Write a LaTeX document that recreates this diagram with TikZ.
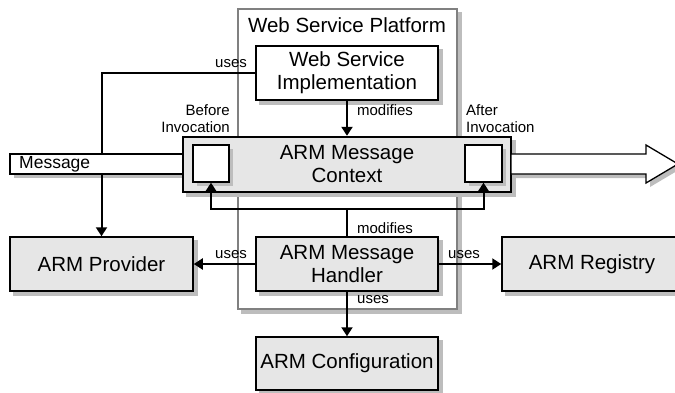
\documentclass[tikz,border=0pt]{standalone}
\usepackage{fontspec}
\setmainfont{Liberation Sans}
\usetikzlibrary{arrows.meta}
\pgfdeclarelayer{back}
\pgfdeclarelayer{plat}
\pgfdeclarelayer{shadow}
\pgfsetlayers{back,plat,shadow,main}
\definecolor{boxgray}{HTML}{E6E6E6}
\definecolor{shadowgray}{HTML}{BDBDBD}
\definecolor{platgray}{HTML}{808080}
\tikzset{
  box/.style={draw=black,line width=1.5pt,inner sep=0pt,align=center,
    font=\fontsize{20.5}{23}\selectfont},
  graybox/.style={box,fill=boxgray},
  whitebox/.style={box,fill=white},
  lbl/.style={inner sep=0pt,font=\fontsize{15}{17}\selectfont},
  conn/.style={line width=2pt},
  arr/.style={conn,-{Triangle[length=9pt,width=11pt]}},
  shadowfill/.style={fill=shadowgray,draw=none},
}
\newcommand{\boxshadow}[1]{\fill[shadowfill] ([shift={(4,4)}]#1.north west) rectangle ([shift={(4,4)}]#1.south east);}
\begin{document}
\begin{tikzpicture}[x=1pt,y=-1pt]
\useasboundingbox (0,0) rectangle (675,392);
% platform
\begin{pgfonlayer}{plat}
\node[draw=platgray,line width=1.3pt,fill=white,minimum width=219pt,minimum height=300pt,inner sep=0pt] (plat) at (347.5,159) {};
\end{pgfonlayer}
\begin{pgfonlayer}{back}
\boxshadow{plat}
\end{pgfonlayer}
\node[inner sep=0pt,font=\fontsize{20.5}{23}\selectfont] (platlbl) at (347,25) {Web Service Platform};
% main boxes
\node[whitebox,minimum width=182pt,minimum height=54pt] (W) at (347,73) {Web Service\\Implementation};
\node[graybox,line width=2.4pt,minimum width=328pt,minimum height=55pt] (C) at (347,164.5) {ARM Message\\Context};
\node[graybox,minimum width=183pt,minimum height=54pt] (P) at (101.5,264) {ARM Provider};
\node[graybox,minimum width=182pt,minimum height=54pt] (H) at (347,264) {ARM Message\\Handler};
\node[graybox,minimum width=180pt,minimum height=54pt] (R) at (592,264) {ARM Registry};
\node[graybox,minimum width=182pt,minimum height=53pt] (G) at (347,363.5) {ARM Configuration};
\begin{pgfonlayer}{shadow}
\boxshadow{W}
\boxshadow{C}
\boxshadow{P}
\boxshadow{H}
\boxshadow{R}
\boxshadow{G}
\end{pgfonlayer}
% inner boxes with shadows (above context fill)
\fill[shadowfill] (197,149) rectangle (233,186);
\fill[shadowfill] (469,149) rectangle (506,186);
\node[whitebox,line width=1.3pt,minimum width=36pt,minimum height=37pt] (LB) at (211,163.5) {};
\node[whitebox,line width=1.3pt,minimum width=37pt,minimum height=37pt] (RB) at (483.5,163.5) {};
% connectors
\coordinate (fb) at (347,209);
\draw[arr] (W.west) -| (P.north);
\draw[arr] (W.south) -- (C.north);
\draw[conn] (H.north) -- (fb);
\draw[arr] (fb) -| (LB.south);
\draw[arr] (fb) -| (RB.south);
\draw[arr] (H.west) -- (P.east);
\draw[arr] (H.east) -- (R.west);
\draw[arr] (H.south) -- (G.north);
% message arrows
\begin{pgfonlayer}{shadow}
\fill[shadowfill] (14,158) rectangle (183,178);
\fill[shadowfill] (515,158) -- (650,158) -- (650,149) -- (682,168) -- (650,187) -- (650,178) -- (515,178) -- cycle;
\end{pgfonlayer}
\draw[line width=1.3pt,fill=white] (10,154) rectangle (183,174);
\node[anchor=west,inner sep=0pt,font=\fontsize{17.5}{19}\selectfont] (msg) at (19,164) {Message};
\draw[line width=1.3pt,fill=white] (511,154) -- (646,154) -- (646,145) -- (678,164) -- (646,183) -- (646,174) -- (511,174) -- cycle;
% labels
\node[lbl] (l1) at (231,64) {uses};
\node[lbl] (l2) at (385,110) {modifies};
\node[lbl,align=right,anchor=east] (l3) at (230,118.5) {Before\\Invocation};
\node[lbl,align=left,anchor=west] (l4) at (466,118.5) {After\\Invocation};
\node[lbl] (l5) at (385,228) {modifies};
\node[lbl] (l6) at (231,255) {uses};
\node[lbl] (l7) at (464,255) {uses};
\node[lbl] (l8) at (373,300) {uses};
\end{tikzpicture}
\end{document}
